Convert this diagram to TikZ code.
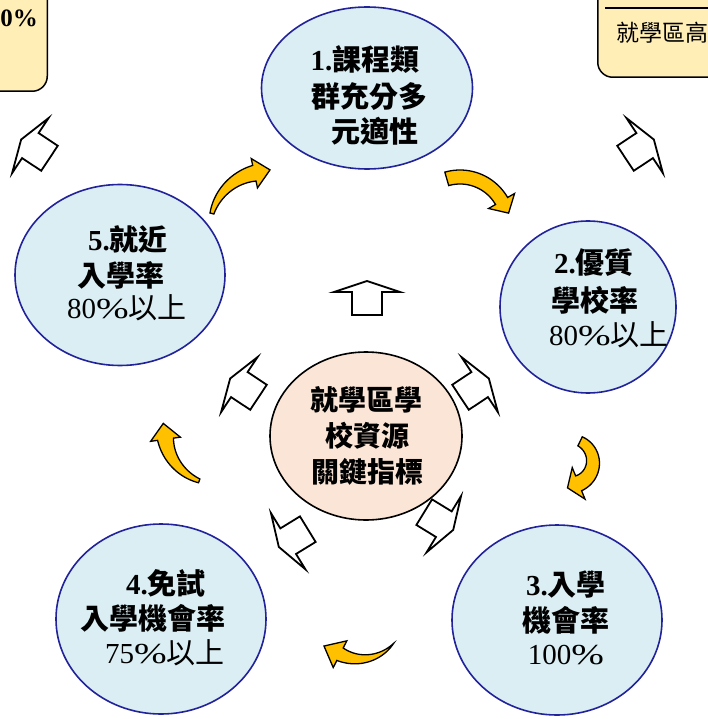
\documentclass[tikz,border=0pt]{standalone}
\usepackage{fontspec}
\setmainfont{Liberation Serif}
\newfontfamily\cjk{Noto Sans CJK TC}
\usetikzlibrary{shapes.geometric}
\definecolor{ellfill}{HTML}{DAEEF3}
\definecolor{elldraw}{HTML}{22229A}
\definecolor{ctrfill}{HTML}{FBE5D6}
\definecolor{boxfill}{HTML}{FFEEB5}
\definecolor{orng}{HTML}{FFC000}
\newcommand\zh[1]{{\cjk #1}}
\newcommand\pct{\scalebox{1.35}[1]{\%}}
\newcommand\carrow[9]{%
  \pgfmathsetmacro\tipx{(#1)+(#3)*cos(#5)-(#9)*sin(#5)}%
  \pgfmathsetmacro\tipy{(#2)+(#3)*sin(#5)+(#9)*cos(#5)}%
  \filldraw[carr] plot[domain=0:1,samples=24] ({(#1)+((#3)+(#6)+((#7)-(#6))*\x)*cos((#4)+((#5)-(#4))*\x)},{(#2)+((#3)+(#6)+((#7)-(#6))*\x)*sin((#4)+((#5)-(#4))*\x)})
   -- ({(#1)+((#3)+(#8))*cos(#5)},{(#2)+((#3)+(#8))*sin(#5)})
   -- (\tipx,\tipy)
   -- ({(#1)+((#3)-(#8))*cos(#5)},{(#2)+((#3)-(#8))*sin(#5)})
   -- plot[domain=0:1,samples=24] ({(#1)+((#3)-(#7)+((#7)-(#6))*\x)*cos((#5)+((#4)-(#5))*\x)},{(#2)+((#3)-(#7)+((#7)-(#6))*\x)*sin((#5)+((#4)-(#5))*\x)})
   -- cycle;}
\newcommand\harrow[3]{%
  \begin{scope}[shift={(#1,#2)},rotate=#3]
    \draw[harr] (0,-19) -- (33,-8) -- (15,-8) -- (15,15) -- (-15,15) -- (-15,-8) -- (-33,-8) -- cycle;
  \end{scope}}
\tikzset{
  ell/.style={ellipse, draw=elldraw, fill=ellfill, line width=1.6pt, inner sep=0},
  ctr/.style={ellipse, draw=black, fill=ctrfill, line width=1.6pt, inner sep=0},
  tbox/.style={rectangle, draw=black, line width=1.5pt, fill=boxfill, rounded corners=15pt, inner sep=0},
  lbl/.style={inner sep=0, font=\fontsize{29}{29}\selectfont},
  lblb/.style={inner sep=0, font=\fontsize{29}{29}\selectfont\bfseries},
  ctl/.style={inner sep=0, font=\fontsize{28}{28}\selectfont\bfseries},
  carr/.style={fill=orng, draw=black, line width=1.3pt, line join=miter},
  harr/.style={fill=white, draw=black, line width=1.8pt, line join=miter},
}
\begin{document}
\begin{tikzpicture}[x=1pt,y=-1pt]
\useasboundingbox (0,0) rectangle (708,719);
% corner boxes
\node[tbox, minimum width=160pt, minimum height=130pt, anchor=south east] (boxL) at (48,92) {};
\node[inner sep=0, font=\fontsize{25}{25}\selectfont\bfseries, anchor=east] (boxLt) at (38,18) {0\%};
\node[tbox, minimum width=160pt, minimum height=110pt, anchor=south west] (boxR) at (597,78) {};
\draw[line width=1.5pt] (605,8) -- (720,8);
\node[inner sep=0, font=\fontsize{23}{23}\selectfont\cjk, anchor=west] (boxRt) at (616,33) {就學區高};
% ellipses
\node[ell, minimum width=211pt, minimum height=162pt] (e1) at (367,88) {};
\node[ell, minimum width=176pt, minimum height=172pt] (e2) at (588,307) {};
\node[ell, minimum width=210pt, minimum height=190pt] (e3) at (557,620) {};
\node[ell, minimum width=210pt, minimum height=190pt] (e4) at (161,619) {};
\node[ell, minimum width=210pt, minimum height=181pt] (e5) at (120,275) {};
\node[ctr, minimum width=192pt, minimum height=168pt] (c) at (366,436) {};
% texts
\node[lblb] (t1a) at (365,60) {1.\zh{課程類}};
\node[lblb] (t1b) at (369,97) {\zh{群充分多}};
\node[lblb] (t1c) at (375,131) {\zh{元適性}};
\node[lblb] (t2a) at (594,263) {2.\zh{優質}};
\node[lblb] (t2b) at (595,300) {\zh{學校率}};
\node[lbl] (t2c) at (609,335) {80\pct\zh{以上}};
\node[lblb] (t3a) at (566,585) {3.\zh{入學}};
\node[lblb] (t3b) at (566,620) {\zh{機會率}};
\node[lbl] (t3c) at (566,655) {100\pct};
\node[lblb] (t4a) at (166,583) {4.\zh{免試}};
\node[lblb] (t4b) at (153,618) {\zh{入學機會率}};
\node[lbl] (t4c) at (165,653) {75\pct\zh{以上}};
\node[lblb] (t5a) at (128,240) {5.\zh{就近}};
\node[lblb] (t5b) at (121,275) {\zh{入學率}};
\node[lbl] (t5c) at (127,308) {80\pct\zh{以上}};
\node[ctl] (cta) at (366,400) {\zh{就學區學}};
\node[ctl] (ctb) at (367,436) {\zh{校資源}};
\node[ctl] (ctc) at (367,472) {\zh{關鍵指標}};
% hollow arrows
\harrow{367}{300}{0}
\harrow{37}{150}{56.5}
\harrow{638}{150}{-56.5}
\harrow{246}{389}{56.5}
\harrow{473}{389}{-56.5}
\harrow{295}{537}{121.5}
\harrow{437}{520}{-121.5}
% curved arrows
\carrow{266}{228}{56}{195}{258}{2}{8}{15}{16}
\carrow{460}{225}{48}{-106}{-30}{7}{7}{15}{14}
\carrow{570}{462}{23}{-64}{68}{5}{8}{17}{12}
\carrow{360}{615}{44}{40}{117}{0}{7}{15}{18}
\carrow{217}{432}{52}{110}{172}{2}{8}{15}{16}
\end{tikzpicture}
\end{document}
